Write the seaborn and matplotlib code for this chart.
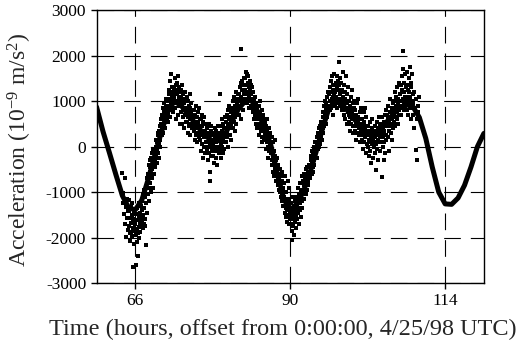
import numpy as np
import pandas as pd
import matplotlib
matplotlib.use("Agg")
import matplotlib.pyplot as plt
import seaborn as sns

# model (predicted tide), one value per hour
model_hours = list(range(60, 121))
model_accel = [870, 330, -140, -620, -1080, -1350, -1390, -1180, -720, -200,
               300, 760, 990, 920, 740, 560, 380, 220, 120, 130,
               300, 570, 830, 1000, 1020, 760, 420, 30, -600, -1150,
               -1400, -1260, -1000, -600, -120, 400, 840, 1000, 930, 770,
               590, 410, 290, 290, 390, 550, 720, 860, 920, 880,
               640, 180, -450, -1000, -1260, -1270, -1130, -850, -450, 0,
               290]

# measured points, one row per hour (row starts at the listed hour)
meas_hours = list(range(64, 110))
meas_rows = [
    [-590, -1030, -1250, -1480, -690, -1700, -1320, -1980, -1150, -1560, -1410, -1830],
    [-1420, -1750, -1180, -1900, -1560, -2080, -1330, -1690, -1870, -1510, -1250, -1960, -1640, -2640, -1780, -1440, -2150, -1600, -1850, -1370],
    [-1700, -1950, -1480, -2600, -1820, -1350, -2100, -1620, -1900, -2400, -1530, -1760, -1250, -2000, -1680, -1450, -1880, -1310, -1720, -1560],
    [-1400, -1650, -1200, -1800, -1050, -1500, -1700, -950, -1350, -1600, -1100, -1750, -2160, -900, -1250, -700, -1450, -800, -1050, -600],
    [-650, -900, -400, -1200, -550, -300, -800, -450, -1000, -250, -600, -700, -150, -500, -350, -900, -50, -400, -250, -600],
    [-300, -100, -450, 0, -200, 150, -350, 100, -50, 250, -150, 300, 50, -250, 350, 150, 450, 200, 0, 500],
    [350, 600, 250, 700, 450, 850, 500, 300, 750, 650, 950, 550, 800, 400, 900, 700, 1050, 600, 850, 1000],
    [700, 1000, 550, 1150, 900, 1250, 800, 1450, 1050, 650, 1200, 950, 1600, 1100, 850, 1300, 1000, 1150, 750, 1250],
    [1100, 1300, 850, 1500, 1200, 950, 1350, 600, 1150, 1400, 1000, 1250, 700, 1550, 1100, 900, 1300, 1050, 500, 1200],
    [1000, 1250, 750, 1100, 500, 900, 1350, 850, 650, 1150, 950, 400, 1050, 800, 1200, 700, 1000, 550, 850, 1100],
    [800, 550, 1000, 650, 300, 900, 700, 450, 1150, 600, 850, 250, 750, 500, 950, 650, 400, 800, 550, 700],
    [600, 350, 800, 450, 150, 700, 550, 250, 900, 400, 650, 100, 500, 750, 300, 550, 850, 200, 450, 600],
    [400, 150, 600, -100, 350, 250, 700, 50, 450, -250, 300, 550, 200, 0, 650, 350, -150, 250, 500, 100],
    [250, -50, 400, 100, -300, 300, 0, 500, -150, 200, 50, -550, -750, 350, -200, 150, 450, -100, 250, 0],
    [50, -200, 300, 150, -350, 0, 400, -100, 200, -250, 100, 350, -50, 250, -400, 150, 0, 450, -150, 200],
    [150, 1150, -100, 300, 50, 450, -250, 250, 600, 0, 350, 150, -150, 500, 200, 400, -50, 650, 250, 100],
    [300, 550, 100, 700, 350, 200, 800, 450, 0, 600, 400, 900, 250, 650, 500, 150, 750, 450, 850, 550],
    [600, 850, 400, 1000, 700, 550, 1100, 750, 350, 900, 650, 1200, 800, 500, 950, 1050, 700, 850, 1150, 900],
    [900, 1150, 700, 1300, 1000, 850, 1400, 2150, 1100, 600, 1250, 950, 1450, 1050, 800, 1350, 1150, 1000, 1500, 1200],
    [1250, 1500, 1050, 1650, 1350, 1150, 1600, 950, 1400, 1200, 1550, 1100, 1300, 850, 1450, 1250, 1050, 1350, 900, 1200],
    [1150, 900, 1300, 1000, 750, 1200, 850, 1050, 600, 950, 1100, 700, 800, 500, 950, 650, 850, 400, 750, 600],
    [700, 450, 900, 600, 250, 750, 500, 1000, 350, 650, 400, 800, 200, 550, 100, 600, 350, 700, 150, 450],
    [400, 150, 550, 300, -50, 450, 200, 600, 100, 350, -250, 250, 0, 400, 150, -100, 300, 50, 200, -150],
    [50, -150, 200, -300, -50, -400, 100, -250, -550, -100, -350, -650, -200, 150, -500, -300, -750, -400, -600, -250],
    [-500, -700, -400, -850, -600, -950, -750, -500, -1000, -800, -1100, -650, -900, -1200, -750, -1050, -550, -1150, -900, -1300],
    [-1100, -1300, -800, -1450, -1200, -650, -1550, -1350, -1000, -1650, -1250, -1400, -750, -1500, -1150, -1700, -1300, -900, -1600, -1450],
    [-1500, -1350, -1700, -1250, -2050, -1550, -1400, -1850, -1600, -1100, -1750, -1450, -1950, -1300, -1650, -1500, -1200, -1800, -1400, -1550],
    [-1300, -1100, -1600, -1200, -1450, -900, -1350, -1700, -1050, -1250, -800, -1400, -1150, -1550, -950, -1200, -650, -1350, -1000, -1150],
    [-950, -750, -1150, -850, -600, -1000, -700, -900, -500, -1050, -800, -650, -950, -450, -750, -850, -550, -700, -400, -600],
    [-550, -400, -700, -300, -500, -200, -600, -350, -100, -450, -250, -550, -150, -400, 0, -300, -200, 100, -250, -50],
    [-100, 100, -250, 50, 200, -50, 300, 100, 400, 0, 250, 150, 450, 50, 350, 200, 550, 300, 150, 450],
    [400, 650, 300, 750, 550, 900, 450, 700, 1000, 600, 850, 500, 950, 750, 1100, 650, 900, 800, 1200, 850],
    [900, 1150, 800, 1300, 1000, 1450, 850, 1200, 1050, 1550, 950, 1250, 1100, 700, 1350, 1000, 1600, 1150, 900, 1250],
    [1200, 950, 1400, 1100, 1550, 850, 1300, 1050, 1450, 1250, 1000, 1350, 1870, 1150, 900, 1500, 1200, 1050, 1400, 800],
    [1000, 1250, 800, 1650, 950, 1100, 700, 1350, 900, 1200, 600, 1050, 1550, 850, 1000, 500, 1150, 950, 750, 1300],
    [800, 550, 1000, 700, 350, 900, 650, 1100, 500, 800, 1250, 600, 750, 300, 950, 700, 450, 850, 600, 1000],
    [600, 350, 800, 500, 150, 700, 450, 950, 300, 650, 550, 1050, 250, 600, 400, 750, 100, 500, 850, 350],
    [400, 150, 600, 300, -50, 500, 250, 750, 350, 100, 550, 200, 850, 400, -150, 300, 650, 250, 450, 50],
    [250, 0, 450, 150, -200, 350, 100, 550, -100, 300, 200, -350, 400, 50, 600, 150, -250, 350, 0, 250],
    [100, 350, -150, 450, 200, -520, 300, 50, 550, -50, 250, 400, -300, 150, 650, 100, 300, -100, 450, 200],
    [300, 100, 500, -670, 250, 650, 0, 400, 200, -300, 550, 350, 100, 700, -150, 450, 250, 800, 150, 500],
    [450, 700, 200, 600, 900, 350, 550, -100, 750, 500, 1050, 300, 650, 450, 850, 150, 600, 950, 400, 700],
    [800, 550, 1000, 700, 1200, 450, 850, 650, 1100, 900, 600, 1300, 750, 950, 500, 1050, 800, 1400, 700, 900],
    [900, 1150, 700, 1350, 1000, 1550, 850, 1250, 1050, 2100, 1700, 950, 1400, 800, 1200, 1100, 1600, 900, 1300, 1050],
    [1100, 1350, 800, 1650, 1000, 1250, 700, 1500, 950, 1200, 1750, 850, 1100, 1400, 600, 1300, 1000, 1600, 900, 1150],
    [950, 700, 1200, 400, 850, -80, 1050, 600, -300, 900, 750, 1100],
]

sns.set_style("ticks")
plt.rcParams["font.family"] = ["Liberation Serif", "DejaVu Serif"]
plt.rcParams["mathtext.fontset"] = "custom"
plt.rcParams["mathtext.rm"] = "Liberation Serif"
plt.rcParams["mathtext.it"] = "Liberation Serif:italic"
plt.rcParams["axes.unicode_minus"] = False

rows = []
for h, vals in zip(meas_hours, meas_rows):
    for k, v in enumerate(vals):
        rows.append((h + k / len(vals), v))
meas = pd.DataFrame(rows, columns=["time", "accel"])
model = pd.DataFrame({"time": model_hours, "accel": model_accel})

fig = plt.figure(figsize=(5.22, 3.49), dpi=100)
ax = fig.add_axes([0.185, 0.189, 0.742, 0.782])

sns.scatterplot(data=meas, x="time", y="accel", ax=ax, color="black",
                marker="s", s=5.5, linewidth=0, zorder=3)
sns.lineplot(data=model, x="time", y="accel", ax=ax, color="black",
             lw=3.6, zorder=4, solid_capstyle="round", solid_joinstyle="round")

ax.set_xlim(60, 120)
ax.set_ylim(-3000, 3000)
ax.set_xticks([66, 90, 114])
ax.set_yticks(range(-3000, 3001, 1000))
ax.grid(True, color="black", lw=0.8, ls=(0, (15, 9)))
for sp in ax.spines.values():
    sp.set_color("black")
    sp.set_linewidth(1.0)
ax.tick_params(direction="out", length=4, width=1, colors="black", labelsize=12.5)

ax.set_xlabel("Time (hours, offset from 0:00:00, 4/25/98 UTC)", fontsize=17.5)
ax.set_ylabel("Acceleration (10$^{-9}$ m/s$^{2}$)", fontsize=17)
ax.xaxis.set_label_coords(0.482, -0.13)
ax.yaxis.set_label_coords(-0.162, 0.487)

fig.savefig("out.png", dpi=100)
